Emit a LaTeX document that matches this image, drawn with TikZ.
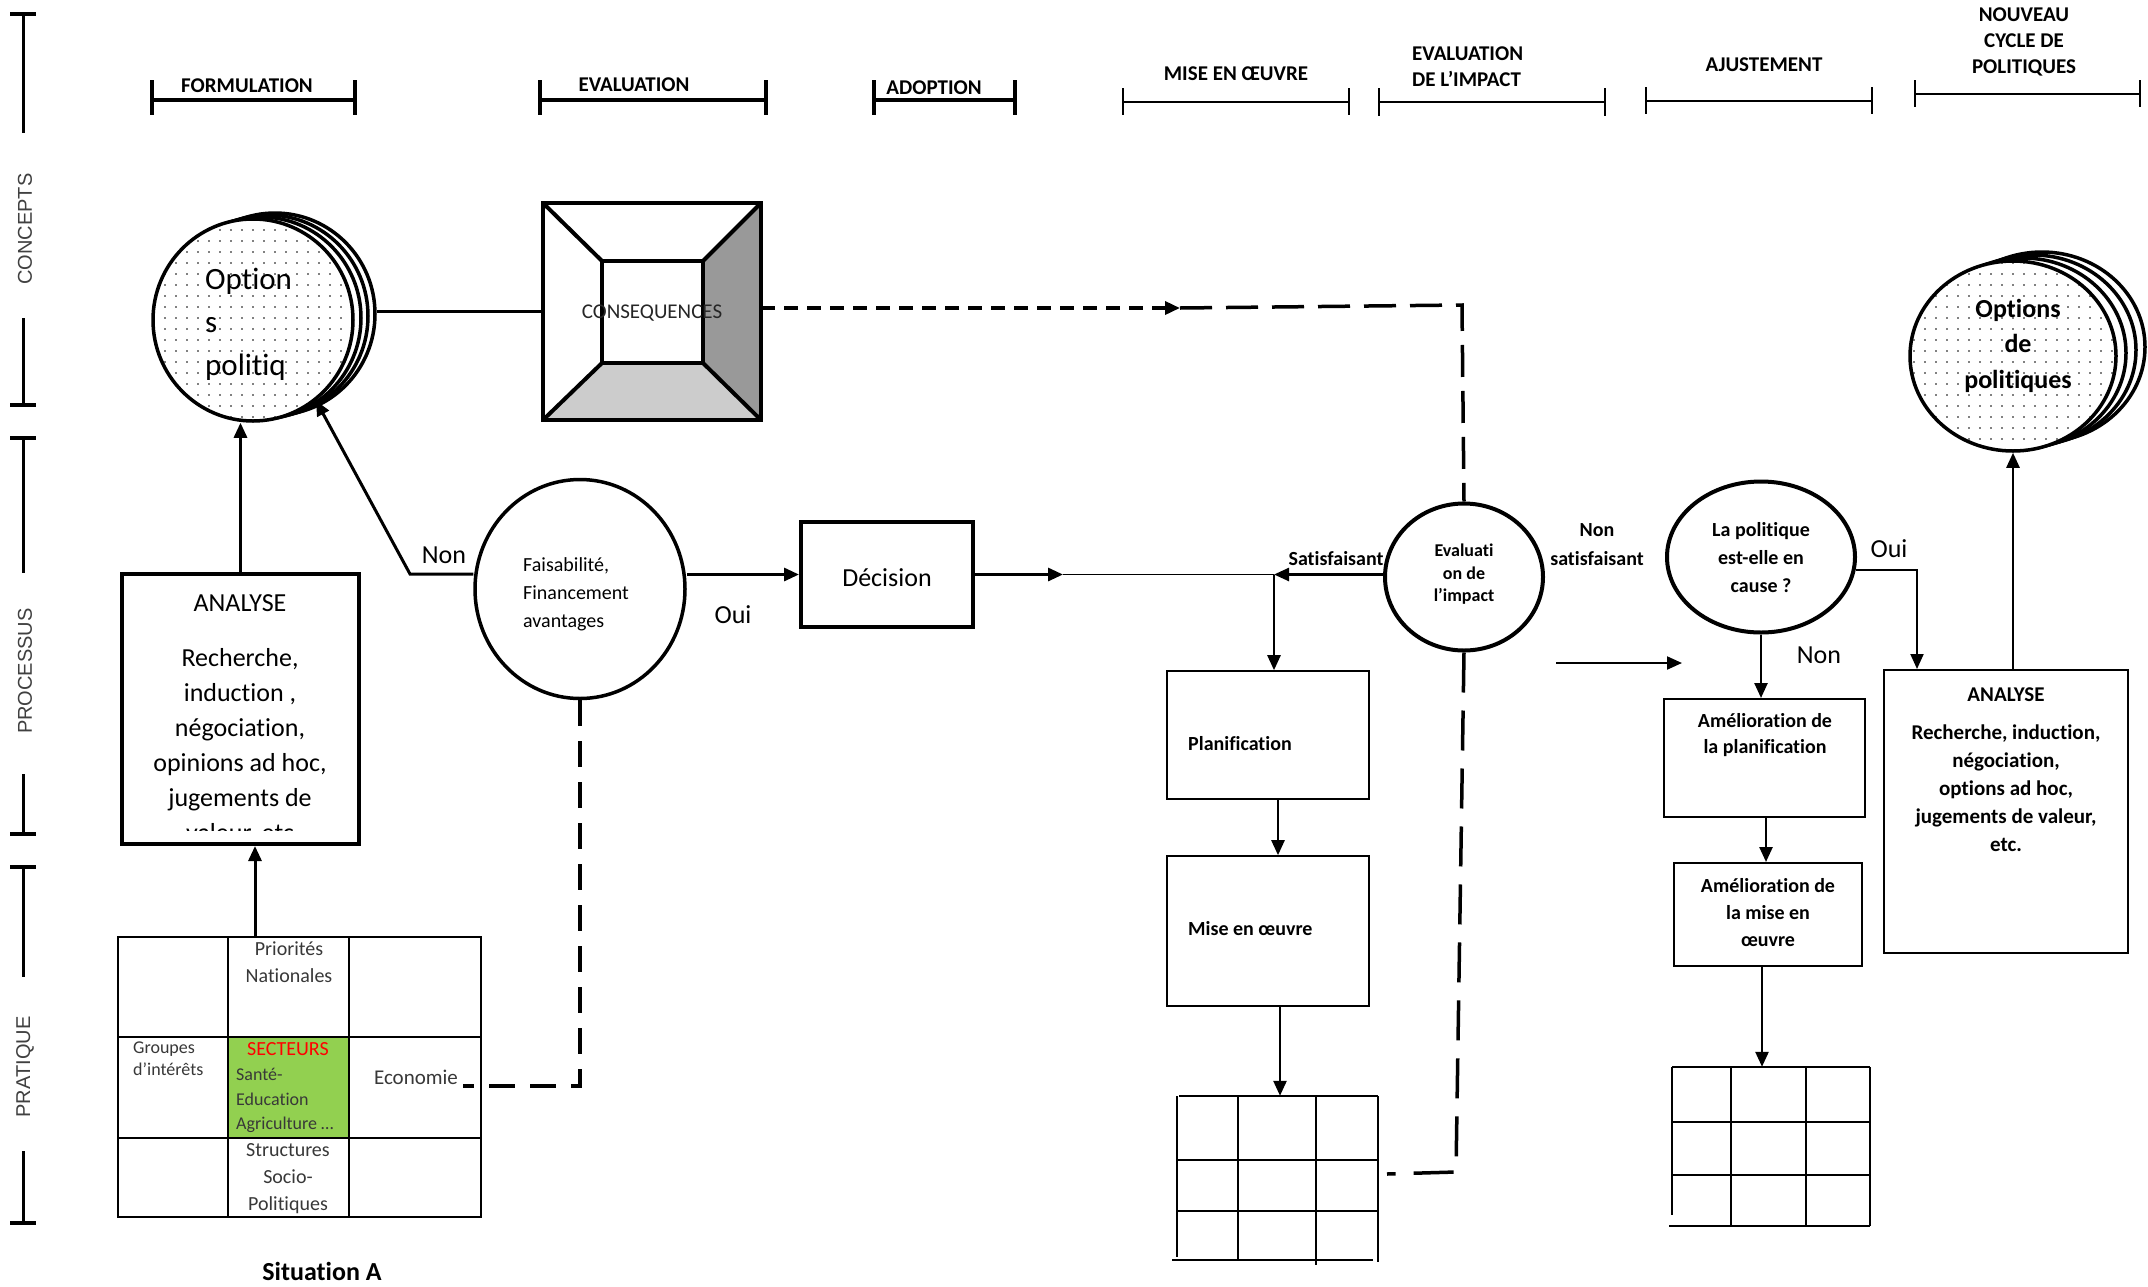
\documentclass[tikz,border=0pt]{standalone}
\usepackage{fontspec}
\setmainfont[Ligatures=NoCommon]{Carlito}
\newfontfamily\axisfont{Liberation Sans}
\usetikzlibrary{shapes.geometric, arrows.meta, patterns.meta}
\definecolor{secgreen}{HTML}{92D050}
\definecolor{darkside}{HTML}{999999}
\definecolor{lightside}{HTML}{CCCCCC}
\begin{document}
\begin{tikzpicture}[x=1pt, y=-1pt,
  arr/.style={-{Triangle[length=15pt,width=13pt]}},
  hdr/.style={font=\bfseries\fontsize{21}{26}\selectfont, inner sep=0pt, align=center},
  axlab/.style={font=\axisfont\fontsize{20}{24}\selectfont, text=black!75, rotate=90, inner sep=0pt},
  thickbar/.style={line width=3.5pt},
  thinbar/.style={line width=1.8pt},
  coin/.style={ellipse, draw, line width=3.5pt, fill=white, inner sep=0pt},
  dotted coin/.style={coin, postaction={pattern={Dots[distance=11pt, radius=0.9pt]}}},
  boxthick/.style={draw, line width=4pt, inner sep=0pt},
  boxthin/.style={draw, line width=1.6pt, inner sep=0pt},
  celltxt/.style={text=black!78, inner sep=0pt},
  btxt/.style={font=\bfseries\fontsize{20}{26}\selectfont, inner sep=0pt},
  rtxt/.style={font=\fontsize{26}{30}\selectfont, inner sep=0pt},
  conn/.style={line width=3pt},
]
\fill[white] (0,0) rectangle (2148,1286);
\useasboundingbox (0,0) rectangle (2148,1286);

% ---------------- left axis ----------------
\draw[line width=3pt] (23,14) -- (23,133) (23,318) -- (23,405);
\draw[line width=3pt] (23,438) -- (23,573) (23,774) -- (23,834);
\draw[line width=3pt] (23,867) -- (23,977) (23,1151) -- (23,1223);
\draw[line width=4pt] (10,14) -- (36,14) (10,405) -- (36,405) (10,438) -- (36,438)
  (10,834) -- (36,834) (10,867) -- (36,867) (10,1223) -- (36,1223);
\node[axlab] (axconcepts) at (25,229) {CONCEPTS};
\node[axlab] (axprocessus) at (25,671) {PROCESSUS};
\node[axlab] (axpratique) at (25,1067) {PRATIQUE};

% ---------------- phase headers ----------------
\draw[thickbar] (152,100) -- (355,100) (152,80) -- (152,115) (355,80) -- (355,115);
\node[hdr] (hformulation) at (247,86) {FORMULATION};
\draw[thickbar] (540,100) -- (766,100) (540,80) -- (540,115) (766,80) -- (766,115);
\node[hdr] (hevaluation) at (634,85) {EVALUATION};
\draw[thickbar] (874,100) -- (1015,100) (874,80) -- (874,115) (1015,80) -- (1015,115);
\node[hdr] (hadoption) at (934,88) {ADOPTION};
\draw[thinbar] (1123,102) -- (1349,102) (1123,88) -- (1123,115) (1349,88) -- (1349,115);
\node[hdr] (hmise) at (1236,74) {MISE EN ŒUVRE};
\draw[thinbar] (1379,102) -- (1605,102) (1379,88) -- (1379,116) (1605,88) -- (1605,116);
\node[hdr, align=left, anchor=west] (himpact) at (1412,66.5) {EVALUATION\\DE L’IMPACT};
\draw[thinbar] (1646,101) -- (1872,101) (1646,87) -- (1646,114) (1872,87) -- (1872,114);
\node[hdr] (hajust) at (1764,65) {AJUSTEMENT};
\draw[thinbar] (1915,94) -- (2140,94) (1915,80) -- (1915,107) (2140,80) -- (2140,107);
\node[hdr] (hnouveau) at (2024,42) {NOUVEAU\\CYCLE DE\\POLITIQUES};

% ---------------- options (left) ----------------
\node[coin, minimum width=200pt, minimum height=202pt] (optb3) at (275,314) {};
\node[coin, minimum width=200pt, minimum height=202pt] (optb2) at (268,316) {};
\node[coin, minimum width=200pt, minimum height=202pt] (optb1) at (261,318) {};
\node[dotted coin, minimum width=200pt, minimum height=202pt] (opt) at (253,320) {};
\node[anchor=west, align=left, font=\fontsize{31}{43}\selectfont, inner sep=0pt] (opttext) at (205,324) {Option\\s\\politiq};

% ---------------- consequences ----------------
\fill[darkside] (703,261) -- (761,203) -- (761,420) -- (703,363) -- cycle;
\fill[lightside] (602,363) -- (703,363) -- (761,420) -- (543,420) -- cycle;
\node[boxthick, minimum width=218pt, minimum height=217pt, outer sep=0pt] (cons) at (652,311.5) {};
\node[boxthick, minimum width=101pt, minimum height=102pt, outer sep=0pt] (consin) at (652.5,312) {};
\draw[line width=4pt] (cons.north west) -- (consin.north west) (cons.north east) -- (consin.north east)
  (cons.south west) -- (consin.south west) (cons.south east) -- (consin.south east);
\node[font=\fontsize{21}{24}\selectfont, text=black!85, inner sep=0pt] (constext) at (652,313) {CONSEQUENCES};
\draw[conn] (cons.west) -- (cons.west -| optb3.east);

% ---------------- left analyse ----------------
\node[boxthick, minimum width=237pt, minimum height=270pt] (ana) at (240.5,709) {};
\node[rtxt] (anatitle) at (240,603) {ANALYSE};
\begin{scope}
\clip (124,620) rectangle (357,830);
\node[align=center, font=\fontsize{26}{35}\selectfont, inner sep=0pt] (anabody) at (240,746.5)
  {Recherche,\\induction ,\\négociation,\\opinions ad hoc,\\jugements de\\valeur, etc};
\end{scope}
\draw[conn, arr] (ana.north) -- (ana.north |- opt.south);

% ---------------- table Situation A ----------------
\fill[secgreen] (228,1037) rectangle (349,1138);
\node[draw, line width=1.3pt, minimum width=363pt, minimum height=280pt, inner sep=0pt] (tab) at (299.5,1077) {};
\draw[line width=1.3pt] (228,937) -- (228,1217) (349,937) -- (349,1217) (118,1037) -- (481,1037) (118,1138) -- (481,1138);
\node[celltxt, align=center, font=\fontsize{20}{27}\selectfont] (prio) at (289,962.5) {Priorités\\Nationales};
\node[celltxt, align=left, anchor=west, font=\fontsize{18}{22}\selectfont] (groupes) at (133,1059) {Groupes\\d’intérêts};
\node[inner sep=0pt, text=red, font=\fontsize{20}{24}\selectfont] (secteurs) at (288,1049) {SECTEURS};
\node[celltxt, align=left, anchor=west, font=\fontsize{18}{24.5}\selectfont] (sante) at (236,1100.5) {Santé-\\Education\\Agriculture …};
\node[celltxt, font=\fontsize{21}{24}\selectfont] (econ) at (416,1077) {Economie};
\node[celltxt, align=center, font=\fontsize{20}{27}\selectfont] (struct) at (288,1179) {Structures\\Socio-\\Politiques};
\node[font=\bfseries\fontsize{26}{30}\selectfont, inner sep=0pt] (situa) at (322,1271) {Situation A};
\draw[conn, arr] (tab.north -| 255,0) -- (ana.south -| 255,0);

% ---------------- faisabilite ----------------
\node[ellipse, draw, line width=3.5pt, minimum width=210pt, minimum height=219pt, inner sep=0pt] (fais) at (580,589) {};
\node[anchor=west, align=left, font=\fontsize{20}{28}\selectfont, inner sep=0pt] (faistext) at (523,594) {Faisabilité,\\Financement\\avantages};
\coordinate (noncorner) at (410,574);
\draw[conn, arr] (fais.west |- noncorner) -- (noncorner) -- (opt.-52);
\node[rtxt] (nonleft) at (444,555) {Non};
\coordinate (ecoend) at (463,1086);
\draw[line width=3.2pt, dash pattern=on 26pt off 15pt] (fais.south) -- (fais.south |- ecoend) -- (ecoend);

% ---------------- decision ----------------
\node[boxthick, minimum width=172pt, minimum height=105pt] (dec) at (887,574.5) {};
\node[rtxt] (dectext) at (887,578) {Décision};
\draw[conn, arr] (fais.east |- dec.west) -- (dec.west);
\node[rtxt] (oui1) at (733,615) {Oui};
\coordinate (decarrow) at (1063,574.5);
\coordinate (junc) at (1274,574.5);
\draw[conn, arr] (dec.east) -- (decarrow);
\draw[line width=1.5pt] (decarrow) -- (junc);

% ---------------- evaluation de l'impact ----------------
\node[ellipse, draw, line width=4pt, minimum width=158pt, minimum height=147pt, inner sep=0pt] (eval) at (1464,577) {};
\node[align=center, font=\bfseries\fontsize{18}{22.5}\selectfont, inner sep=0pt] (evaltext) at (1464,574.5) {Evaluati\\on de\\l’impact};
\draw[line width=2.5pt, arr] (eval.west |- junc) -- (junc);
\node[btxt] (satisf) at (1336,559) {Satisfaisant};
\node[btxt, align=center, font=\bfseries\fontsize{20}{29}\selectfont] (nonsat) at (1597,544.5) {Non\\satisfaisant};
\coordinate (nsa) at (1556,663);
\coordinate (nsb) at (1682,663);
\draw[line width=2pt, arr] (nsa) -- (nsb);

% dashed feedback from consequences
\coordinate (cmid) at (1180,308);
\coordinate (ccorner) at (1462,305);
\draw[line width=3.5pt, dash pattern=on 14pt off 9pt, arr] (cons.east |- cmid) -- (cmid);
\draw[line width=3.5pt, dash pattern=on 32pt off 14pt] (cmid) -- (ccorner) -- (eval.north);

% ---------------- mise en oeuvre column ----------------
\node[boxthin, minimum width=202pt, minimum height=128pt] (planif) at (1268,735) {};
\node[btxt, anchor=west] (planiftext) at (1188,744) {Planification};
\draw[line width=2.5pt, arr] (junc) -- (junc |- planif.north);
\node[boxthin, minimum width=202pt, minimum height=150pt] (mise) at (1268,931) {};
\node[btxt, anchor=west] (misetext) at (1188,929) {Mise en œuvre};
\draw[line width=2.5pt, arr] (planif.south -| 1278,0) -- (mise.north -| 1278,0);
\node[minimum width=201pt, minimum height=164pt, inner sep=0pt] (g1) at (1277.5,1178) {};
\draw[line width=2.2pt] (1179,1096) -- (1378,1096) (1177,1160) -- (1378,1160) (1177,1211) -- (1378,1211)
  (1172,1260) -- (1373,1260) (1177,1096) -- (1177,1257) (1238,1096) -- (1238,1260)
  (1316,1096) -- (1316,1265) (1378,1096) -- (1378,1262);
\draw[line width=2.5pt, arr] (mise.south -| 1280,0) -- (g1.north -| 1280,0);
\coordinate (g1end) at (1387,1174);
\draw[line width=3.5pt, dash pattern=on 40pt off 18pt] (eval.south) -- (1456,1172) -- (g1end);

% ---------------- ajustement column ----------------
\node[ellipse, draw, line width=4pt, minimum width=188pt, minimum height=151pt, inner sep=0pt] (pol) at (1761,557) {};
\node[align=center, font=\bfseries\fontsize{20}{28}\selectfont, inner sep=0pt] (poltext) at (1761,558) {La politique\\est-elle en\\cause ?};
\node[boxthin, line width=2pt, minimum width=201pt, minimum height=118pt] (amp) at (1764.5,758) {};
\node[align=center, font=\bfseries\fontsize{20}{26}\selectfont, inner sep=0pt] (amptext) at (1765,735) {Amélioration de\\la planification};
\draw[line width=2.5pt, arr] (pol.south) -- (pol.south |- amp.north);
\node[rtxt] (nonright) at (1819,655) {Non};
\node[boxthin, line width=2pt, minimum width=188pt, minimum height=103pt] (amm) at (1768,914.5) {};
\node[align=center, font=\bfseries\fontsize{20}{27}\selectfont, inner sep=0pt] (ammtext) at (1768,913) {Amélioration de\\la mise en\\œuvre};
\draw[line width=2.5pt, arr] (amp.south -| 1766,0) -- (amm.north -| 1766,0);
\node[minimum width=198pt, minimum height=159pt, inner sep=0pt] (g2) at (1771,1146.5) {};
\draw[line width=2.2pt] (1672,1067) -- (1870,1067) (1672,1122) -- (1870,1122) (1672,1175) -- (1870,1175)
  (1669,1226) -- (1870,1226) (1672,1067) -- (1672,1215) (1731,1067) -- (1731,1226)
  (1806,1067) -- (1806,1226) (1870,1067) -- (1870,1226);
\draw[line width=2.5pt, arr] (amm.south -| 1762,0) -- (g2.north -| 1762,0);

% ---------------- nouveau cycle ----------------
\node[boxthin, line width=2pt, minimum width=244pt, minimum height=283pt] (ana2) at (2006,811.5) {};
\node[font=\bfseries\fontsize{21}{26}\selectfont, inner sep=0pt] (ana2title) at (2006,695) {ANALYSE};
\node[align=center, font=\bfseries\fontsize{21}{28}\selectfont, inner sep=0pt] (ana2body) at (2006,788)
  {Recherche, induction,\\négociation,\\options ad hoc,\\jugements de valeur,\\etc.};
\draw[line width=2pt, arr] (pol.-8) -| (ana2.north -| 1917,0);
\node[rtxt] (oui2) at (1889,549) {Oui};

\node[coin, minimum width=206pt, minimum height=190pt] (optRb3) at (2042,347) {};
\node[coin, minimum width=206pt, minimum height=190pt] (optRb2) at (2033,350) {};
\node[coin, minimum width=206pt, minimum height=190pt] (optRb1) at (2023,353) {};
\node[dotted coin, minimum width=206pt, minimum height=190pt] (optR) at (2013,356) {};
\node[align=center, font=\bfseries\fontsize{26}{35.5}\selectfont, inner sep=0pt] (optRtext) at (2018,345.5) {Options\\de\\politiques};
\draw[line width=2.5pt, arr] (ana2.north -| optR.south) -- (optR.south);
\end{tikzpicture}
\end{document}
